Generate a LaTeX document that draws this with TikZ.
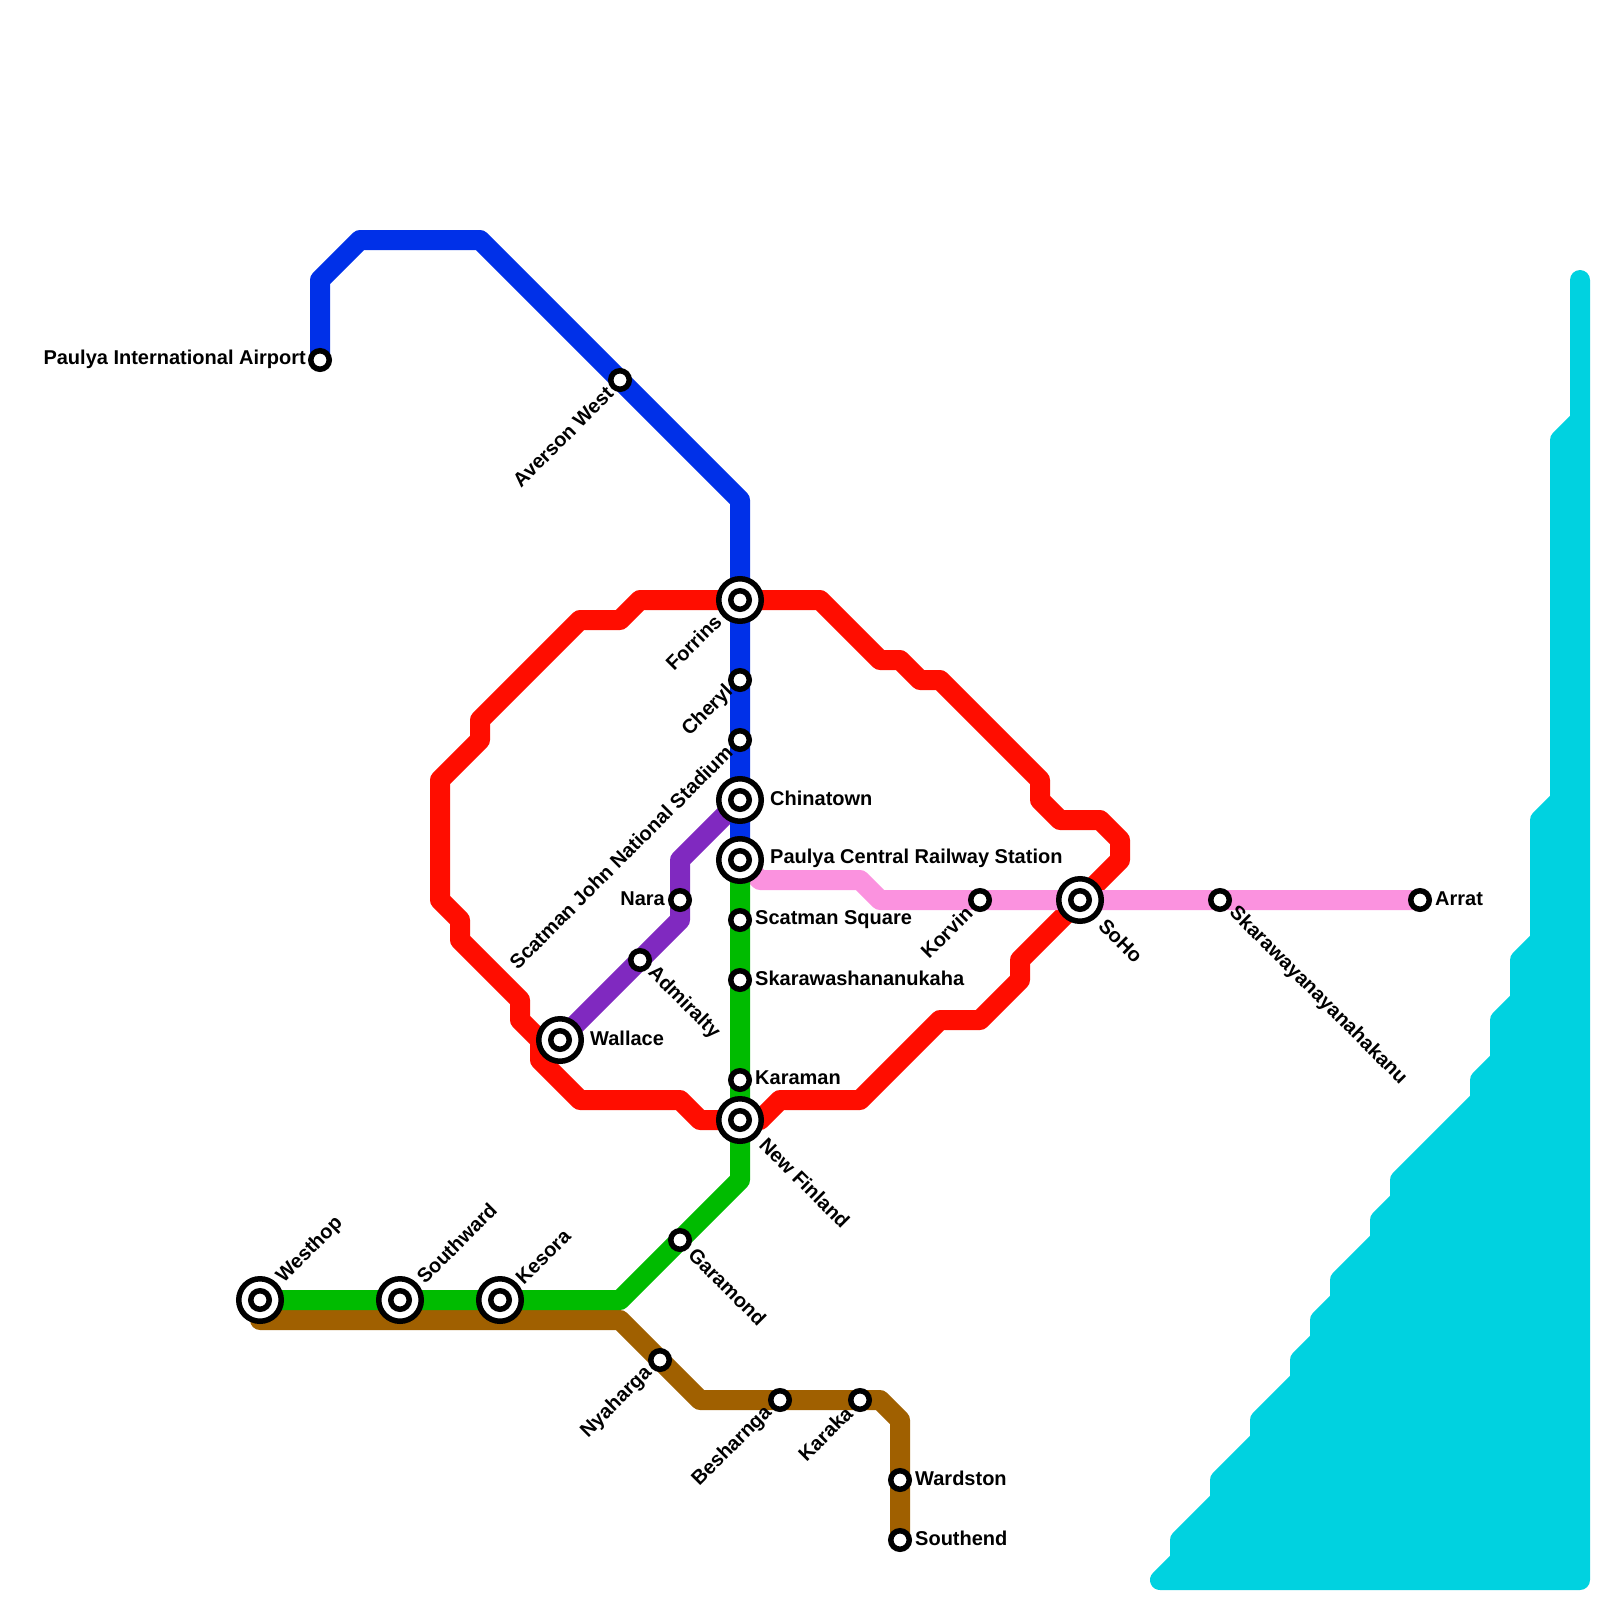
\documentclass[tikz,border=0pt]{standalone}
\usepackage{fontspec}
\usetikzlibrary{calc}
\setmainfont{Liberation Sans}
\definecolor{lred}{HTML}{FF0D00}
\definecolor{lblue}{HTML}{0030E8}
\definecolor{lgreen}{HTML}{00BB00}
\definecolor{lpurple}{HTML}{8029C0}
\definecolor{lpink}{HTML}{FB92DF}
\definecolor{lbrown}{HTML}{A06000}
\definecolor{lwater}{HTML}{00D2E0}
\tikzset{
  metro/.style={line width=20pt,line cap=round,line join=round},
  water/.style={fill=lwater,draw=lwater,line width=20pt,line join=round},
  stn/.style={circle,draw=black,fill=white,line width=5.5pt,minimum size=18.5pt,inner sep=0pt,outer sep=0pt},
  hub/.style={circle,draw=black,fill=white,line width=5.5pt,minimum size=42.5pt,inner sep=0pt,outer sep=0pt},
  lab/.style={font=\fontsize{20}{22}\selectfont\bfseries,inner sep=0pt,text=black},
  labR/.style={lab,anchor=west},
  labL/.style={lab,anchor=east},
  labUp/.style={lab,anchor=west,rotate=45},
  labDn/.style={lab,anchor=west,rotate=-45},
  labBk/.style={lab,anchor=east,rotate=45},
}
\begin{document}
\begin{tikzpicture}[x=1pt,y=-1pt]
\useasboundingbox (0,0) rectangle (1600,1600);
% station positions
\coordinate (airport) at (320,360);
\coordinate (averson) at (620,380);
\coordinate (forrins) at (740,600);
\coordinate (cheryl) at (740,680);
\coordinate (stadium) at (740,740);
\coordinate (chinatown) at (740,800);
\coordinate (central) at (740,860);
\coordinate (nara) at (680,900);
\coordinate (sqr) at (740,920);
\coordinate (admiralty) at (640,960);
\coordinate (skarawa) at (740,980);
\coordinate (wallace) at (560,1040);
\coordinate (karaman) at (740,1080);
\coordinate (finland) at (740,1120);
\coordinate (garamond) at (680,1240);
\coordinate (westhop) at (260,1300);
\coordinate (southward) at (400,1300);
\coordinate (kesora) at (500,1300);
\coordinate (nyaharga) at (660,1360);
\coordinate (besharnga) at (780,1400);
\coordinate (karaka) at (860,1400);
\coordinate (wardston) at (900,1480);
\coordinate (southend) at (900,1540);
\coordinate (korvin) at (980,900);
\coordinate (soho) at (1080,900);
\coordinate (skaray) at (1220,900);
\coordinate (arrat) at (1420,900);
\coordinate (brownstart) at (260,1320);
% water
\draw[water] (1160,1580) -- (1180,1560) -- (1180,1540) -- (1220,1500) -- (1220,1480) -- (1260,1440) -- (1260,1420) -- (1300,1380) -- (1300,1360) -- (1320,1340) -- (1320,1320) -- (1340,1300) -- (1340,1280) -- (1380,1240) -- (1380,1220) -- (1400,1200) -- (1400,1180) -- (1480,1100) -- (1480,1080) -- (1500,1060) -- (1500,1020) -- (1520,1000) -- (1520,960) -- (1540,940) -- (1540,820) -- (1560,800) -- (1560,440) -- (1580,420) -- (1580,280) -- (1580,1580) -- cycle;
% lines
\draw[metro,lred] (forrins) -- (820,600) -- (880,660) -- (900,660) -- (920,680) -- (940,680) -- (1040,780) -- (1040,800) -- (1060,820) -- (1100,820) -- (1120,840) -- (1120,860) -- (soho) -- (1020,960) -- (1020,980) -- (980,1020) -- (940,1020) -- (860,1100) -- (780,1100) -- (760,1120) -- (finland) -- (700,1120) -- (680,1100) -- (580,1100) -- (540,1060) -- (540,1040) -- (520,1020) -- (520,1000) -- (460,940) -- (460,920) -- (440,900) -- (440,780) -- (480,740) -- (480,720) -- (580,620) -- (620,620) -- (640,600) -- cycle;
\draw[metro,lpink] (central) -- (760,880) -- (860,880) -- (880,900) -- (korvin) -- (soho) -- (skaray) -- (arrat);
\draw[metro,lpurple] (wallace) -- (admiralty) -- (680,920) -- (nara) -- (680,860) -- (chinatown);
\draw[metro,lbrown] (brownstart) -- (620,1320) -- (nyaharga) -- (700,1400) -- (besharnga) -- (karaka) -- (880,1400) -- (900,1420) -- (wardston) -- (southend);
\draw[metro,lgreen] (westhop) -- (southward) -- (kesora) -- (620,1300) -- (garamond) -- (740,1180) -- (finland) -- (karaman) -- (skarawa) -- (sqr) -- (central);
\draw[metro,lblue] (airport) -- (320,280) -- (360,240) -- (480,240) -- (averson) -- (740,500) -- (forrins) -- (cheryl) -- (stadium) -- (chinatown) -- (central);
% stations
\foreach \s in {airport,averson,cheryl,stadium,nara,sqr,admiralty,skarawa,karaman,garamond,nyaharga,besharnga,karaka,wardston,southend,korvin,skaray,arrat}
  \node[stn] (st-\s) at (\s) {};
\foreach \s in {forrins,chinatown,central,wallace,finland,westhop,southward,kesora,soho}{
  \node[hub] (hub-\s) at (\s) {};
  \node[stn] (st-\s) at (\s) {};
}
% labels
\node[labL] (l-airport) at ($(airport)+(-14,-1)$) {Paulya International Airport};
\node[labBk] (l-averson) at ($(averson)+(-10,10)$) {Averson West};
\node[labBk] (l-forrins) at ($(forrins)+(-22,18)$) {Forrins};
\node[labBk] (l-cheryl) at ($(cheryl)+(-10,9)$) {Cheryl};
\node[labBk] (l-stadium) at ($(stadium)+(-11,9)$) {Scatman John National Stadium};
\node[labR] (l-chinatown) at ($(chinatown)+(30,-2)$) {Chinatown};
\node[labR] (l-central) at ($(central)+(30,-2)$) {Paulya Central Railway Station};
\node[labL] (l-nara) at ($(nara)+(-15,-1)$) {Nara};
\node[labR] (l-sqr) at ($(sqr)+(15,0)$) {Scatman Square};
\node[labDn] (l-admiralty) at ($(admiralty)+(11,10)$) {Admiralty};
\node[labR] (l-skarawa) at ($(skarawa)+(15,-2)$) {Skarawashananukaha};
\node[labR] (l-wallace) at ($(wallace)+(30,-2)$) {Wallace};
\node[labR] (l-karaman) at ($(karaman)+(15,-2)$) {Karaman};
\node[labDn] (l-finland) at ($(finland)+(23,21)$) {New Finland};
\node[labDn] (l-garamond) at ($(garamond)+(12,11)$) {Garamond};
\node[labUp] (l-westhop) at ($(westhop)+(20,-20)$) {Westhop};
\node[labUp] (l-southward) at ($(southward)+(20,-20)$) {Southward};
\node[labUp] (l-kesora) at ($(kesora)+(19,-19)$) {Kesora};
\node[labBk] (l-nyaharga) at ($(nyaharga)+(-11,10)$) {Nyaharga};
\node[labBk] (l-besharnga) at ($(besharnga)+(-11,10)$) {Besharnga};
\node[labBk] (l-karaka) at ($(karaka)+(-11,10)$) {Karaka};
\node[labR] (l-wardston) at ($(wardston)+(15,-2)$) {Wardston};
\node[labR] (l-southend) at ($(southend)+(15,-2)$) {Southend};
\node[labBk] (l-korvin) at ($(korvin)+(-11,10)$) {Korvin};
\node[labDn] (l-soho) at ($(soho)+(22,22)$) {SoHo};
\node[labDn] (l-skaray) at ($(skaray)+(12,10)$) {Skarawayanayanahakanu};
\node[labR] (l-arrat) at ($(arrat)+(15,-1)$) {Arrat};
\end{tikzpicture}
\end{document}
